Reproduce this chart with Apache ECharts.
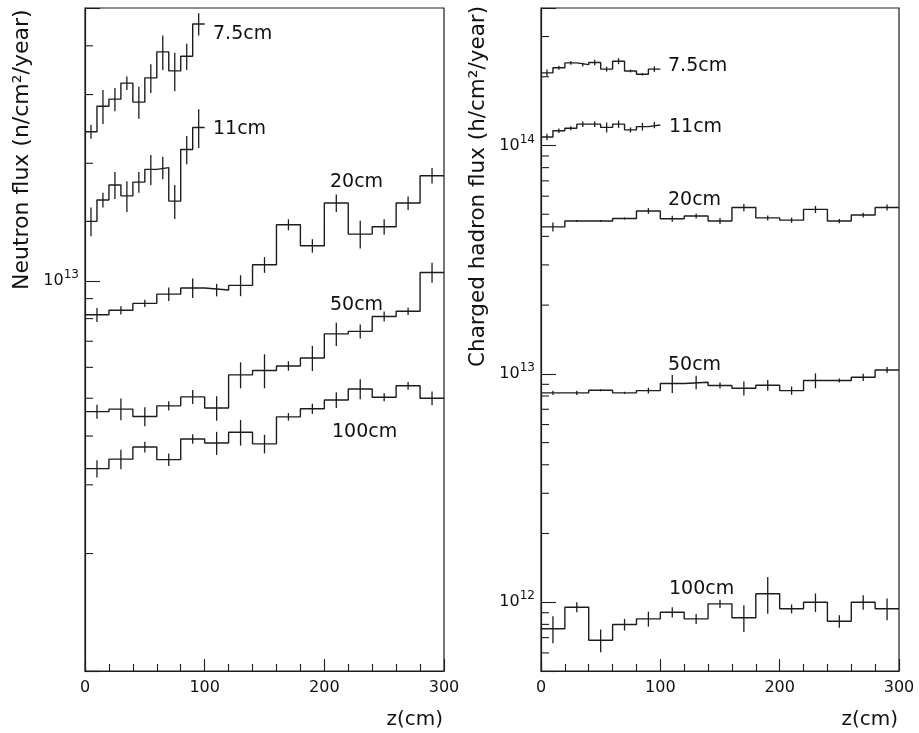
<!DOCTYPE html>
<html><head><meta charset="utf-8">
<script src="https://cdn.jsdelivr.net/npm/echarts@6/dist/echarts.min.js"></script>
<style>html,body{margin:0;padding:0;background:#fff}#c{width:919px;height:733px}</style>
</head><body><div id="c"></div>
<script>
// bin edges (cm)
const edges10 = [0,10,20,30,40,50,60,70,80,90,100];
const edges20 = [0,20,40,60,80,100,120,140,160,180,200,220,240,260,280,300];

// Left panel: neutron flux (n/cm2/year)
const n75    = [2.41e13,2.80e13,2.92e13,3.21e13,2.87e13,3.31e13,3.86e13,3.45e13,3.76e13,4.55e13];
const n75err = [0.10e13,0.28e13,0.20e13,0.13e13,0.27e13,0.28e13,0.39e13,0.39e13,0.29e13,0.30e13];
const n11    = [1.42e13,1.61e13,1.76e13,1.65e13,1.79e13,1.93e13,1.95e13,1.60e13,2.17e13,2.47e13];
const n11err = [0.12e13,0.07e13,0.14e13,0.15e13,0.11e13,0.17e13,0.13e13,0.16e13,0.18e13,0.28e13];
const n20    = [8.18e12,8.40e12,8.75e12,9.24e12,9.58e12,9.47e12,9.73e12,10.99e12,13.92e12,12.29e12,15.82e12,13.17e12,13.75e12,15.82e12,18.59e12];
const n20err = [0.34e12,0.21e12,0.19e12,0.37e12,0.55e12,0.35e12,0.60e12,0.51e12,0.45e12,0.49e12,0.81e12,1.07e12,0.63e12,0.63e12,0.85e12];
const n50    = [4.62e12,4.69e12,4.49e12,4.78e12,5.04e12,4.72e12,5.74e12,5.89e12,6.05e12,6.34e12,7.31e12,7.42e12,8.10e12,8.35e12,10.5e12];
const n50err = [0.19e12,0.30e12,0.25e12,0.13e12,0.21e12,0.34e12,0.44e12,0.59e12,0.17e12,0.47e12,0.50e12,0.31e12,0.24e12,0.18e12,0.62e12];
const n100   = [3.30e12,3.49e12,3.75e12,3.48e12,3.93e12,3.84e12,4.09e12,3.82e12,4.48e12,4.70e12,4.95e12,5.28e12,5.03e12,5.38e12,5.00e12];
const n100err= [0.17e12,0.20e12,0.12e12,0.13e12,0.11e12,0.26e12,0.31e12,0.21e12,0.10e12,0.14e12,0.23e12,0.31e12,0.12e12,0.12e12,0.20e12];

// Right panel: charged hadron flux (h/cm2/year)
const h75    = [2.08e14,2.19e14,2.30e14,2.26e14,2.31e14,2.16e14,2.34e14,2.12e14,2.05e14,2.16e14];
const h75err = [0.07e14,0.045e14,0.045e14,0.045e14,0.065e14,0.054e14,0.07e14,0.03e14,0.025e14,0.06e14];
const h11    = [1.09e14,1.16e14,1.19e14,1.24e14,1.24e14,1.20e14,1.24e14,1.17e14,1.21e14,1.23e14];
const h11err = [0.036e14,0.026e14,0.024e14,0.035e14,0.035e14,0.06e14,0.046e14,0.03e14,0.047e14,0.04e14];
const h20    = [4.40e13,4.67e13,4.67e13,4.79e13,5.17e13,4.78e13,4.91e13,4.67e13,5.35e13,4.82e13,4.71e13,5.25e13,4.67e13,4.96e13,5.35e13];
const h20err = [0.20e13,0.05e13,0.05e13,0.05e13,0.15e13,0.14e13,0.12e13,0.14e13,0.20e13,0.12e13,0.12e13,0.19e13,0.10e13,0.12e13,0.16e13];
const h50    = [8.26e12,8.26e12,8.48e12,8.26e12,8.45e12,9.07e12,9.19e12,8.89e12,8.65e12,8.92e12,8.45e12,9.35e12,9.35e12,9.66e12,10.4e12];
const h50err = [0.17e12,0.17e12,0.09e12,0.09e12,0.25e12,0.82e12,0.62e12,0.27e12,0.60e12,0.49e12,0.35e12,0.70e12,0.19e12,0.36e12,0.31e12];
const h100   = [7.65e11,9.51e11,6.82e11,7.99e11,8.46e11,9.04e11,8.46e11,9.84e11,8.55e11,10.9e11,9.36e11,10.0e11,8.26e11,10.0e11,9.36e11];
const h100err= [1.03e11,0.48e11,0.78e11,0.47e11,0.64e11,0.46e11,0.43e11,0.41e11,1.15e11,2.0e11,0.42e11,0.93e11,0.52e11,0.72e11,1.02e11];

// axis ranges and minor tick values
const leftRange  = [1e12, 5e13];
const rightRange = [5e11, 4e14];
const leftMinor  = [2e12,3e12,4e12,5e12,6e12,7e12,8e12,9e12,2e13,3e13,4e13];
const rightMinor = [6e11,7e11,8e11,9e11,2e12,3e12,4e12,5e12,6e12,7e12,8e12,9e12,2e13,3e13,4e13,5e13,6e13,7e13,8e13,9e13,2e14,3e14];

const curves = [
  {g:0, edges:edges10, vals:n75,  errs:n75err},
  {g:0, edges:edges10, vals:n11,  errs:n11err},
  {g:0, edges:edges20, vals:n20,  errs:n20err},
  {g:0, edges:edges20, vals:n50,  errs:n50err},
  {g:0, edges:edges20, vals:n100, errs:n100err},
  {g:1, edges:edges10, vals:h75,  errs:h75err},
  {g:1, edges:edges10, vals:h11,  errs:h11err},
  {g:1, edges:edges20, vals:h20,  errs:h20err},
  {g:1, edges:edges20, vals:h50,  errs:h50err},
  {g:1, edges:edges20, vals:h100, errs:h100err}
];

const INK = '#1c1c1c';
const FONT = 'DejaVu Sans';

function stepData(edges, vals){ return edges.map((e,i)=>[e, vals[Math.min(i, vals.length-1)]]); }
function errData(edges, vals, errs){ return vals.map((v,i)=>[(edges[i]+edges[i+1])/2, v, errs[i]]); }

const series = [];
curves.forEach(c => {
  series.push({
    type:'line', xAxisIndex:c.g, yAxisIndex:c.g, step:'end', symbol:'none', silent:true,
    data: stepData(c.edges, c.vals),
    lineStyle:{color:INK, width:1.4}
  });
  series.push({
    type:'custom', xAxisIndex:c.g, yAxisIndex:c.g, silent:true,
    encode:{x:0, y:1},
    data: errData(c.edges, c.vals, c.errs),
    renderItem:(params, api) => {
      const x = api.value(0), v = api.value(1), e = api.value(2);
      const p1 = api.coord([x, v - e]), p2 = api.coord([x, v + e]);
      return {type:'line', shape:{x1:p1[0], y1:p1[1], x2:p2[0], y2:p2[1]}, style:{stroke:INK, lineWidth:1.3}};
    }
  });
});
[[0, leftMinor],[1, rightMinor]].forEach(([g, list]) => {
  series.push({
    type:'custom', xAxisIndex:g, yAxisIndex:g, silent:true,
    encode:{x:0, y:1},
    data: list.map(v => [0, v]),
    renderItem:(params, api) => {
      const p = api.coord([api.value(0), api.value(1)]);
      return {type:'line', shape:{x1:p[0], y1:p[1], x2:p[0]+8, y2:p[1]}, style:{stroke:INK, lineWidth:1.1}};
    }
  });
});

function yLabel(range){
  return function(v){
    const e = Math.log10(v);
    if (Math.abs(e - Math.round(e)) > 1e-6 || Math.abs(v - range[0]) < v*1e-6) return '';
    return '{b|10}{s|' + Math.round(e) + '}';
  };
}

function xAxis(g){
  return {
    type:'value', gridIndex:g, min:0, max:300, interval:100,
    axisLine:{show:true, lineStyle:{color:INK, width:1.2}},
    axisTick:{show:true, inside:true, length:12, lineStyle:{color:INK, width:1.1}},
    minorTick:{show:true, splitNumber:5, length:7, lineStyle:{color:INK, width:1.1}},
    splitLine:{show:false},
    axisLabel:{fontFamily:FONT, fontSize:16, color:'#111', margin:9}
  };
}
function yAxis(g, range){
  return {
    type:'log', logBase:10, gridIndex:g, min:range[0], max:range[1],
    axisLine:{show:true, lineStyle:{color:INK, width:1.2}},
    axisTick:{show:true, inside:true, length:15, lineStyle:{color:INK, width:1.1}},
    splitLine:{show:false},
    axisLabel:{
      margin:6, formatter:yLabel(range),
      rich:{
        b:{fontFamily:FONT, fontSize:16, color:'#111', lineHeight:24},
        s:{fontFamily:FONT, fontSize:12, color:'#111', lineHeight:13, verticalAlign:'top'}
      }
    }
  };
}

function txt(x, y, s, size, align, rot){
  return {type:'text', x:x, y:y, rotation:rot||0, silent:true,
    style:{text:s, fontFamily:FONT, fontSize:size, fill:'#111', textAlign:align||'left', textVerticalAlign:'middle'}};
}

const option = {
  animation:false,
  backgroundColor:'#fff',
  grid:[
    {left:85, top:8, width:359, height:663, show:true, borderColor:INK, borderWidth:1.2, backgroundColor:'transparent'},
    {left:541, top:8, width:358, height:663, show:true, borderColor:INK, borderWidth:1.2, backgroundColor:'transparent'}
  ],
  xAxis:[xAxis(0), xAxis(1)],
  yAxis:[yAxis(0, leftRange), yAxis(1, rightRange)],
  series: series,
  graphic:[
    txt(22, 290, 'Neutron flux (n/cm\u00B2/year)', 22, 'left', Math.PI/2),
    txt(478, 367, 'Charged hadron flux (h/cm\u00B2/year)', 21.5, 'left', Math.PI/2),
    txt(443, 720, 'z(cm)', 20, 'right'),
    txt(898, 720, 'z(cm)', 20, 'right'),
    txt(213, 34, '7.5cm', 19),
    txt(213, 129, '11cm', 19),
    txt(330, 182, '20cm', 19),
    txt(330, 305, '50cm', 19),
    txt(332, 432, '100cm', 19),
    txt(668, 66, '7.5cm', 19),
    txt(669, 127, '11cm', 19),
    txt(668, 200, '20cm', 19),
    txt(668, 365, '50cm', 19),
    txt(669, 589, '100cm', 19)
  ]
};
const chart = echarts.init(document.getElementById('c'));
chart.setOption(option);
</script></body></html>
